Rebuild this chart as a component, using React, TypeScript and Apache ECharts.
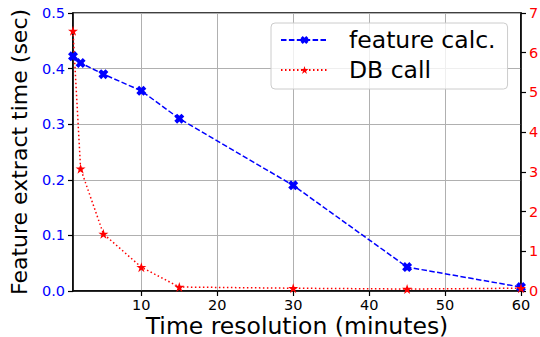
import React, { useEffect, useRef } from "react";
import * as echarts from "echarts";

// Time resolution in minutes
const resolutions = [1, 2, 5, 10, 15, 30, 45, 60];
// Feature extraction time (sec), left axis
const featureCalc = [0.422, 0.41, 0.39, 0.36, 0.31, 0.19, 0.043, 0.007];
// Database call time (sec), right axis
const dbCall = [6.55, 3.08, 1.44, 0.6, 0.1, 0.07, 0.05, 0.07];

const FONT = "DejaVu Sans";
const X_SYMBOL =
  "path://M0.28,0 L0.5,0.22 L0.72,0 L1,0.28 L0.78,0.5 L1,0.72 L0.72,1 L0.5,0.78 L0.28,1 L0,0.72 L0.22,0.5 L0,0.28 Z";
const STAR_SYMBOL =
  "path://M0.5,0 L0.618,0.363 L1,0.363 L0.691,0.588 L0.809,0.951 L0.5,0.727 L0.191,0.951 L0.309,0.588 L0,0.363 L0.382,0.363 Z";

export default function App() {
  const ref = useRef<HTMLDivElement>(null);

  useEffect(() => {
    if (!ref.current) return;
    const chart = echarts.init(ref.current, null, { renderer: "svg" });
    const axisLine = { show: true, lineStyle: { color: "#000", width: 1.5 } };
    const axisTick = { show: true, inside: false, length: 5, lineStyle: { color: "#000", width: 1.2 } };
    chart.setOption({
      animation: false,
      grid: {
        left: 73,
        right: 19,
        top: 13,
        bottom: 46,
        containLabel: false,
        outerBoundsMode: "none",
        show: true,
        borderColor: "#000",
        borderWidth: 1.5,
        backgroundColor: "transparent",
      },
      legend: {
        show: true,
        orient: "vertical",
        left: 271,
        top: 23,
        width: 238,
        padding: [5, 12, 7, 9],
        itemGap: 6,
        itemWidth: 47,
        itemHeight: 10,
        backgroundColor: "rgba(255,255,255,0.8)",
        borderColor: "#cccccc",
        borderWidth: 1,
        borderRadius: 4,
        textStyle: { fontFamily: FONT, fontSize: 23.5, color: "#000", padding: [0, 0, 0, 16] },
        data: ["feature calc.", "DB call"],
      },
      xAxis: {
        type: "value",
        min: 1,
        max: 60,
        name: "Time resolution (minutes)",
        nameLocation: "middle",
        nameGap: 25,
        nameMoveOverlap: false,
        nameTextStyle: { fontFamily: FONT, fontSize: 23.5, lineHeight: 20, color: "#000" },
        axisLine,
        axisTick,
        axisLabel: { showMinLabel: false, fontFamily: FONT, fontSize: 14.5, color: "#000", margin: 6 },
        splitLine: { show: true, lineStyle: { color: "#b0b0b0", width: 1 } },
      },
      yAxis: [
        {
          type: "value",
          min: 0,
          max: 0.5,
          interval: 0.1,
          name: "Feature extract time (sec)",
          nameLocation: "middle",
          nameGap: 43,
          nameMoveOverlap: false,
          nameTextStyle: { fontFamily: FONT, fontSize: 22, color: "#000" },
          axisLine,
          axisTick,
          axisLabel: {
            fontFamily: FONT,
            fontSize: 14.5,
            color: "#0000ff",
            margin: 8,
            formatter: (v: number) => v.toFixed(1),
          },
          splitLine: { show: true, lineStyle: { color: "#b0b0b0", width: 1 } },
        },
        {
          type: "value",
          min: 0,
          max: 7,
          interval: 1,
          position: "right",
          axisLine,
          axisTick,
          axisLabel: { fontFamily: FONT, fontSize: 14.5, color: "#ff0000", margin: 8 },
          splitLine: { show: false },
        },
      ],
      series: [
        {
          name: "feature calc.",
          type: "line",
          yAxisIndex: 0,
          data: resolutions.map((x, i) => [x, featureCalc[i]]),
          symbol: X_SYMBOL,
          symbolSize: 10,
          showAllSymbol: true,
          clip: false,
          itemStyle: { color: "#0000ff" },
          lineStyle: { color: "#0000ff", width: 1.5, type: [5.5, 2.4] },
        },
        {
          name: "DB call",
          type: "line",
          yAxisIndex: 1,
          data: resolutions.map((x, i) => [x, dbCall[i]]),
          symbol: STAR_SYMBOL,
          symbolSize: 10,
          showAllSymbol: true,
          clip: false,
          itemStyle: { color: "#ff0000" },
          lineStyle: { color: "#ff0000", width: 1.5, type: [1.5, 2.5] },
        },
      ],
    });
    return () => chart.dispose();
  }, []);

  return <div ref={ref} style={{ width: 540, height: 337, position: "absolute", left: 0, top: 0 }} />;
}
